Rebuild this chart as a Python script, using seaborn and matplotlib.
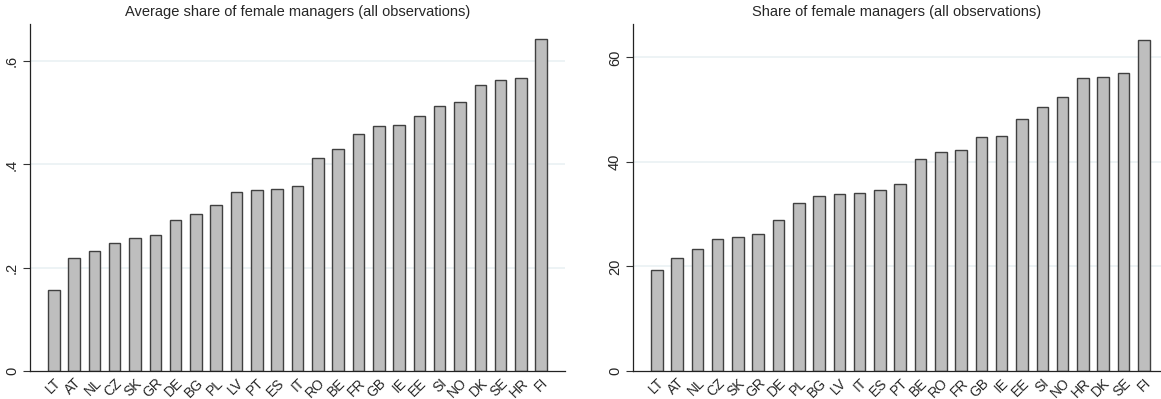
import matplotlib
matplotlib.use("Agg")
import matplotlib.pyplot as plt
import seaborn as sns
import pandas as pd

# left panel: average share of female managers
avg_countries = ["LT", "AT", "NL", "CZ", "SK", "GR", "DE", "BG", "PL", "LV", "PT", "ES", "IT",
                 "RO", "BE", "FR", "GB", "IE", "EE", "SI", "NO", "DK", "SE", "HR", "FI"]
avg_share = [0.157, 0.219, 0.233, 0.248, 0.257, 0.263, 0.292, 0.305, 0.322, 0.347, 0.351, 0.353, 0.358,
             0.412, 0.430, 0.459, 0.474, 0.476, 0.494, 0.513, 0.520, 0.554, 0.563, 0.567, 0.642]

# right panel: share of female managers (percent)
pct_countries = ["LT", "AT", "NL", "CZ", "SK", "GR", "DE", "PL", "BG", "LV", "IT", "ES", "PT",
                 "BE", "RO", "FR", "GB", "IE", "EE", "SI", "NO", "HR", "DK", "SE", "FI"]
pct_share = [19.4, 21.6, 23.4, 25.2, 25.6, 26.3, 28.9, 32.2, 33.4, 33.9, 34.0, 34.7, 35.7,
             40.5, 41.9, 42.3, 44.7, 44.9, 48.3, 50.6, 52.4, 56.0, 56.3, 57.1, 63.4]

sns.set_style("white")
plt.rcParams['font.family'] = ['Liberation Sans', 'DejaVu Sans']

W, H = 1161, 399
fig = plt.figure(figsize=(W / 100, H / 100), dpi=100)

bar_color = "#bebebe"
edge_color = "#404040"
grid_color = "#e8f0f2"


def draw_panel(ax, countries, values, title, ticks, ticklabels, ymax, xmax):
    df = pd.DataFrame({"country": countries, "value": values})
    for t in ticks[1:]:
        ax.axhline(t, color=grid_color, lw=1.1, zorder=0)
    sns.barplot(data=df, x="country", y="value", order=countries, color=bar_color,
                edgecolor=edge_color, linewidth=1.0, width=0.57, saturation=1, ax=ax, zorder=2)
    ax.set_xlim(-1.17, xmax)
    ax.set_ylim(0, ymax)
    ax.set_yticks(ticks)
    ax.set_yticklabels(ticklabels, rotation=90, va="center", fontsize=10.5)
    ax.tick_params(axis="y", which="major", left=True, length=5, width=0.8, pad=3, color="#333333")
    ax.tick_params(axis="x", which="major", bottom=False, pad=0)
    plt.setp(ax.get_xticklabels(), rotation=45, ha="right", rotation_mode="anchor", fontsize=10)
    for s in ["top", "right"]:
        ax.spines[s].set_visible(False)
    for s in ["left", "bottom"]:
        ax.spines[s].set_color("#222222")
        ax.spines[s].set_linewidth(0.9)
    ax.set_xlabel("")
    ax.set_ylabel("")
    ax.set_title(title, fontsize=10.5, pad=6)


bottom = (H - 371) / H
height = (371 - 24) / H

ax1 = fig.add_axes([30 / W, bottom, (565 - 30) / W, height])
draw_panel(ax1, avg_countries, avg_share, "Average share of female managers (all observations)",
           [0, 0.2, 0.4, 0.6], ["0", ".2", ".4", ".6"], 0.672, 25.17)

ax2 = fig.add_axes([633 / W, bottom, (1161 - 633) / W, height])
draw_panel(ax2, pct_countries, pct_share, "Share of female managers (all observations)",
           [0, 20, 40, 60], ["0", "20", "40", "60"], 66.4, 24.85)

fig.savefig("out.png", dpi=100)
